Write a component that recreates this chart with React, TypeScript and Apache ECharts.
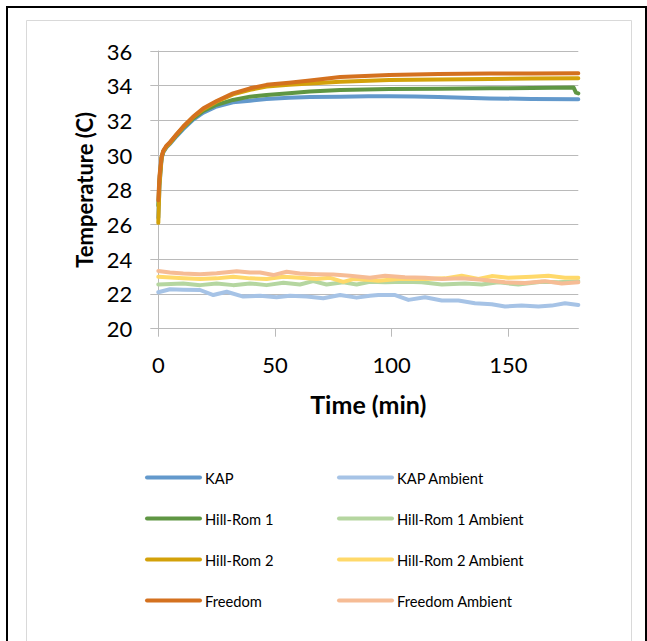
import React, { useEffect, useRef } from "react";
import * as echarts from "echarts";

// ---- Data (time in minutes, temperature in C) ----
const KAP_T = [0, 0.5, 1.4, 2.1, 3.5, 5, 7.9, 10.7, 15, 19.3, 25, 32, 39.3, 46.4, 56, 65, 78, 90, 99, 110, 120, 142, 160, 180];
const KAP_V = [26.4, 28.2, 29.8, 30.15, 30.45, 30.65, 31.1, 31.5, 32.05, 32.45, 32.8, 33.05, 33.14, 33.24, 33.3, 33.35, 33.37, 33.4, 33.4, 33.38, 33.35, 33.27, 33.24, 33.22];

const HR1_T = [0, 0.5, 1.4, 2.1, 3.5, 5, 7.9, 10.7, 15, 19.3, 25, 32, 39.3, 46.4, 56, 65, 78, 99, 120, 142, 160, 178, 179, 180];
const HR1_V = [27.1, 28.6, 29.85, 30.2, 30.5, 30.7, 31.15, 31.58, 32.12, 32.55, 32.9, 33.18, 33.37, 33.47, 33.56, 33.66, 33.75, 33.81, 33.83, 33.85, 33.87, 33.89, 33.6, 33.56];

const HR2_T = [0, 0.5, 1.4, 2.1, 3.5, 5, 7.9, 10.7, 15, 19.3, 25, 32, 39.3, 46.4, 56, 65, 78, 99, 120, 142, 160, 180];
const HR2_V = [26.1, 28.3, 29.85, 30.2, 30.5, 30.7, 31.2, 31.62, 32.2, 32.65, 33.08, 33.5, 33.76, 33.95, 34.05, 34.13, 34.23, 34.33, 34.36, 34.39, 34.41, 34.43];

const FRE_T = [0, 0.5, 1.4, 2.1, 3.5, 5, 7.9, 10.7, 15, 19.3, 25, 32, 39.3, 46.4, 56, 65, 78, 99, 120, 142, 160, 180];
const FRE_V = [27.4, 28.8, 29.9, 30.25, 30.55, 30.75, 31.22, 31.65, 32.22, 32.7, 33.12, 33.56, 33.85, 34.05, 34.17, 34.3, 34.5, 34.62, 34.67, 34.7, 34.71, 34.72];

const KAPA_T = [0, 5, 10.7, 17.9, 23.6, 29.3, 36.4, 43.6, 50.7, 56.4, 63.6, 70.7, 77.9, 85, 90.7, 94.3, 101.5, 107.2, 114.3, 121.5, 128.6, 135.7, 142.9, 148.6, 155.7, 162.9, 168.6, 174.3, 180];
const KAPA_V = [22.1, 22.27, 22.25, 22.23, 21.94, 22.13, 21.85, 21.9, 21.81, 21.9, 21.85, 21.75, 21.94, 21.79, 21.9, 21.94, 21.94, 21.66, 21.81, 21.62, 21.62, 21.47, 21.41, 21.28, 21.33, 21.28, 21.33, 21.47, 21.37];

const HR1A_T = [0, 10.7, 17.9, 25, 32.1, 39.3, 46.4, 53.6, 60.7, 66.4, 72.1, 79.3, 85, 90.7, 97.2, 105.7, 112.9, 121.5, 131.5, 138.6, 145.7, 154.3, 164.3, 171.5, 180];
const HR1A_V = [22.55, 22.61, 22.51, 22.61, 22.51, 22.61, 22.51, 22.65, 22.55, 22.74, 22.55, 22.67, 22.55, 22.7, 22.67, 22.7, 22.67, 22.55, 22.61, 22.55, 22.67, 22.55, 22.7, 22.67, 22.74];

const HR2A_T = [0, 10.7, 17.9, 25, 32.1, 39.3, 46.4, 53.6, 60.7, 67.9, 73.6, 79.3, 83.6, 90.7, 94.3, 102.9, 114.3, 122.9, 130, 137.2, 142.9, 150, 160, 167.2, 174.3, 180];
const HR2A_V = [22.99, 22.9, 22.86, 22.9, 22.99, 22.9, 22.86, 22.99, 22.93, 22.86, 22.93, 22.7, 22.86, 22.8, 22.76, 22.86, 22.86, 22.9, 23.05, 22.86, 23.03, 22.93, 22.99, 23.05, 22.93, 22.93];

const FREA_T = [0, 5, 10.7, 17.9, 25, 33.6, 39.3, 43.6, 49.3, 55, 60.7, 67.9, 75, 82.1, 90.7, 97.2, 105.7, 114.3, 121.5, 130, 138.6, 148.6, 157.2, 165.7, 172.9, 180];
const FREA_V = [23.33, 23.24, 23.18, 23.14, 23.2, 23.31, 23.24, 23.24, 23.09, 23.28, 23.18, 23.14, 23.12, 23.05, 22.93, 23.05, 22.97, 22.93, 22.86, 22.9, 22.82, 22.67, 22.63, 22.74, 22.6, 22.67];

const X_TICKS = [0, 50, 100, 150];

const zip = (t: number[], v: number[]) => t.map((x, i) => [x, v[i]]);

const SERIES = [
  { name: "KAP", t: KAP_T, v: KAP_V, color: "#6399cc" },
  { name: "KAP Ambient", t: KAPA_T, v: KAPA_V, color: "#a6c3e6" },
  { name: "Hill-Rom 1", t: HR1_T, v: HR1_V, color: "#5f9643" },
  { name: "Hill-Rom 1 Ambient", t: HR1A_T, v: HR1A_V, color: "#b5d6a0" },
  { name: "Hill-Rom 2", t: HR2_T, v: HR2_V, color: "#d3a10a" },
  { name: "Hill-Rom 2 Ambient", t: HR2A_T, v: HR2A_V, color: "#ffd96a" },
  { name: "Freedom", t: FRE_T, v: FRE_V, color: "#d4711f" },
  { name: "Freedom Ambient", t: FREA_T, v: FREA_V, color: "#f6bc95" },
];

const FONT = "Lato, 'Open Sans', sans-serif";
const GRID_COLOR = "#bababa";

export default function App() {
  const ref = useRef<HTMLDivElement>(null);
  useEffect(() => {
    if (!ref.current) return;
    const chart = echarts.init(ref.current, null, { renderer: "svg" });
    const legendCommon = {
      orient: "vertical" as const,
      itemWidth: 53,
      itemHeight: 14,
      itemGap: 26,
      textStyle: { fontFamily: FONT, fontSize: 14.7, color: "#000" },
      lineStyle: { width: 4, cap: "round" },
      itemStyle: { opacity: 0 },
      padding: 0,
      selectedMode: false,
    };
    chart.setOption({
      animation: false,
      backgroundColor: "#fff",
      graphic: [
        {
          type: "rect",
          shape: { x: 26.5, y: 20.5, width: 605, height: 700 },
          style: { fill: "none", stroke: "#d9d9d9", lineWidth: 1 },
          silent: true,
        },
        {
          type: "rect",
          shape: { x: 7, y: 7, width: 639, height: 700 },
          style: { fill: "none", stroke: "#000", lineWidth: 2 },
          silent: true,
        },
      ],
      grid: { left: 158.3, right: 68.7, top: 51, bottom: 312.3, containLabel: false },
      legend: [
        { ...legendCommon, left: 145, top: 470, data: ["KAP", "Hill-Rom 1", "Hill-Rom 2", "Freedom"] },
        { ...legendCommon, left: 337, top: 470, data: ["KAP Ambient", "Hill-Rom 1 Ambient", "Hill-Rom 2 Ambient", "Freedom Ambient"] },
      ],
      xAxis: {
        type: "value",
        min: 0,
        max: 180,
        interval: 50,
        name: "Time (min)",
        nameLocation: "middle",
        nameGap: 63,
        nameTextStyle: { fontFamily: FONT, fontSize: 25, fontWeight: "bold", color: "#000" },
        axisLine: { show: true, lineStyle: { color: GRID_COLOR, width: 1 } },
        axisTick: { show: true, length: 8, lineStyle: { color: GRID_COLOR }, customValues: X_TICKS },
        axisLabel: { fontFamily: FONT, fontSize: 22, color: "#000", margin: 25, customValues: X_TICKS },
        splitLine: { show: false },
      },
      yAxis: {
        type: "value",
        min: 20,
        max: 36,
        interval: 2,
        name: "Temperature (C)",
        nameLocation: "middle",
        nameGap: 61,
        nameTextStyle: { fontFamily: FONT, fontSize: 22, fontWeight: "bold", color: "#000" },
        axisLine: { show: true, lineStyle: { color: GRID_COLOR, width: 1 } },
        axisTick: { show: true, length: 8, lineStyle: { color: GRID_COLOR } },
        axisLabel: { fontFamily: FONT, fontSize: 22, color: "#000", margin: 26 },
        splitLine: { show: true, lineStyle: { color: GRID_COLOR, width: 1 } },
      },
      series: SERIES.map((s) => ({
        name: s.name,
        type: "line",
        data: zip(s.t, s.v),
        symbol: "none",
        showSymbol: false,
        color: s.color,
        lineStyle: { color: s.color, width: 4, cap: "round", join: "round" },
        emphasis: { disabled: true },
      })),
    });
    return () => chart.dispose();
  }, []);
  return <div ref={ref} style={{ position: "fixed", left: 0, top: 0, width: 647, height: 641 }} />;
}
